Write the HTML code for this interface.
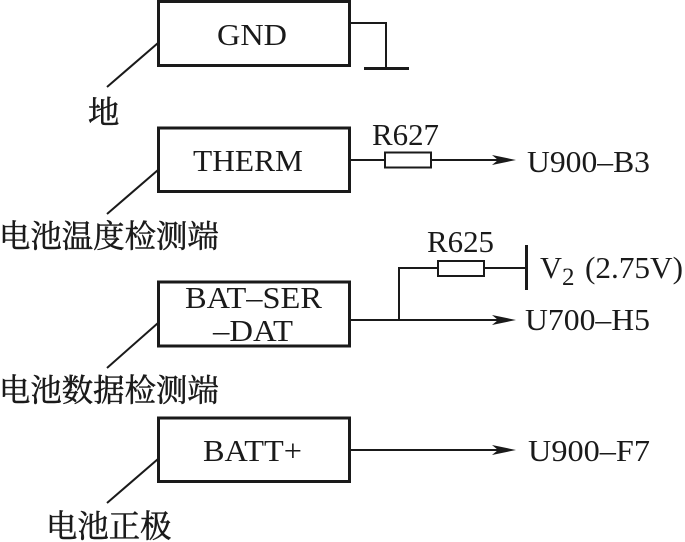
<!DOCTYPE html>
<html>
<head>
<meta charset="utf-8">
<style>
html,body{margin:0;padding:0;background:#fff}
svg{display:block}
text{font-family:"Liberation Serif","Noto Serif CJK SC",serif;fill:#1a1a1a}
.c{font-family:"Noto Serif CJK SC","Noto Sans CJK SC",serif;stroke:#1a1a1a;stroke-width:.5;font-size:31.4px}
</style>
</head>
<body>
<svg width="685" height="542" viewBox="0 0 685 542" xmlns="http://www.w3.org/2000/svg">
<g fill="none" stroke="#1a1a1a" stroke-width="3">
<rect x="158.500" y="1.500" width="191" height="64"/>
<rect x="158.500" y="128" width="191" height="63.500"/>
<rect x="158.500" y="282" width="191" height="64"/>
<rect x="158.500" y="418" width="191" height="63.500"/>
</g>
<g fill="none" stroke="#1a1a1a" stroke-width="2">
<path d="M350 23H386V68"/>
<path d="M364 68.500H409" stroke-width="3"/>
<path d="M158 43L107 87"/>
<path d="M158 170L107 214"/>
<path d="M158 323L107 368"/>
<path d="M158 459L107 503"/>
<path d="M350 160H385"/>
<rect x="385" y="152.500" width="46" height="15"/>
<path d="M431 160H498"/>
<path d="M350 320H498"/>
<path d="M399 320V268H438"/>
<rect x="438" y="261" width="46" height="15"/>
<path d="M484 268H526"/>
<path d="M526.500 245V290" stroke-width="3"/>
<path d="M350 450H498"/>
</g>
<g fill="#1a1a1a">
<path d="M516 160L492 155L498 160L492 165Z"/>
<path d="M516 320L492 315L498 320L492 325Z"/>
<path d="M516 450L492 445L498 450L492 455Z"/>
</g>
<g font-size="31">
<text x="217" y="45" textLength="70" lengthAdjust="spacingAndGlyphs">GND</text>
<text x="193" y="171" textLength="110" lengthAdjust="spacingAndGlyphs">THERM</text>
<text x="185" y="308" textLength="137" lengthAdjust="spacingAndGlyphs">BAT–SER</text>
<text x="213" y="341" textLength="80" lengthAdjust="spacingAndGlyphs">–DAT</text>
<text x="203" y="461" textLength="99" lengthAdjust="spacingAndGlyphs">BATT+</text>
<text x="372" y="145" textLength="67" lengthAdjust="spacingAndGlyphs">R627</text>
<text x="427" y="252" textLength="67" lengthAdjust="spacingAndGlyphs">R625</text>
<text x="527" y="172" textLength="123" lengthAdjust="spacingAndGlyphs">U900–B3</text>
<text x="525" y="330" textLength="125" lengthAdjust="spacingAndGlyphs">U700–H5</text>
<text x="528" y="461" textLength="122" lengthAdjust="spacingAndGlyphs">U900–F7</text>
<text x="540" y="278" textLength="22" lengthAdjust="spacingAndGlyphs">V</text>
<text x="562" y="285" font-size="25">2</text>
<text x="585" y="278" textLength="98" lengthAdjust="spacingAndGlyphs">(2.75V)</text>
</g>
<text class="c" x="88" y="123">地</text>
<text class="c" x="-1" y="247">电池温度检测端</text>
<text class="c" x="-1" y="401">电池数据检测端</text>
<text class="c" x="46" y="537">电池正极</text>
</svg>
</body>
</html>
